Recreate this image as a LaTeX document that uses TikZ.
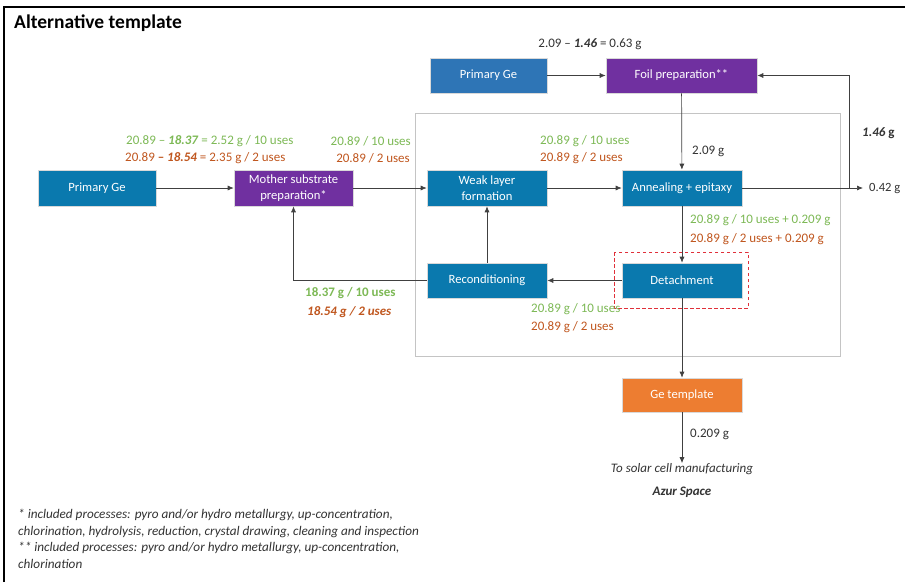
\documentclass[tikz,border=0pt]{standalone}
\usepackage{fontspec}
\setmainfont{Carlito}
\usetikzlibrary{arrows.meta}
\definecolor{boxblue}{HTML}{0A79AE}
\definecolor{topblue}{HTML}{2E75B6}
\definecolor{procpurple}{HTML}{7030A0}
\definecolor{tplorange}{HTML}{ED7D31}
\definecolor{usegreen}{HTML}{7DB955}
\definecolor{usebrown}{HTML}{C0561E}
\definecolor{flowgray}{HTML}{404040}
\definecolor{framegray}{HTML}{C4C4C4}
\definecolor{markred}{HTML}{E0303A}
\tikzset{
  proc/.style={draw=white!85!black, line width=0.6pt, text=white, minimum width=#1, align=center,
               font=\fontsize{12.6}{15.5}\selectfont, inner sep=0pt},
  proc/.default=120pt,
  lbl/.style={inner sep=0pt, font=\fontsize{13}{15}\selectfont},
  grn/.style={lbl, text=usegreen},
  brn/.style={lbl, text=usebrown},
  blk/.style={lbl, text=flowgray!80!black},
  flow/.style={draw=flowgray, line width=0.7pt, -{Latex[length=6pt,width=5pt]}},
}
\begin{document}
\begin{tikzpicture}[x=1pt,y=-1pt]
\useasboundingbox (0,0) rectangle (905,582);
\fill[white] (0,0) rectangle (905,582);
% outer frame (open at right and bottom)
\draw[black, line width=1.6pt] (4,582) -- (4,7) -- (905,7);
\node[anchor=west, inner sep=0pt, font=\fontsize{19.5}{22}\selectfont\bfseries] (title) at (14,23) {Alternative template};

% reuse cycle frame
\draw[framegray, line width=0.8pt] (415,113) rectangle (840,356);

% process boxes
\node[proc=117pt, fill=topblue, minimum height=35pt] (pgtop) at (488.5,75.5) {Primary Ge};
\node[proc=151pt, fill=procpurple, minimum height=35pt] (foil) at (681.5,75.5) {Foil preparation**};
\node[proc=118pt, fill=boxblue, minimum height=36pt] (pgleft) at (97,188) {Primary Ge};
\node[proc=119pt, fill=procpurple, minimum height=36pt] (mother) at (293.5,188) {Mother substrate\\preparation*};
\node[proc, fill=boxblue, minimum height=36pt] (weak) at (487,188) {Weak layer\\formation};
\node[proc, fill=boxblue, minimum height=36pt] (anneal) at (682,188) {Annealing + epitaxy};
\node[proc, fill=boxblue, minimum height=35pt] (recon) at (487,280.5) {Reconditioning};
\node[proc, fill=boxblue, minimum height=35pt] (detach) at (682,280.5) {Detachment};
\node[proc, fill=tplorange, minimum height=34pt] (getpl) at (682,395) {Ge template};
% marker round the detachment step
\draw[markred, line width=1pt, dash pattern=on 3.5pt off 2.5pt] (614,252) rectangle (748,308);

% free ends
\coordinate (loopdown) at (849,188);
\coordinate (loopup) at (849,75.5);
\coordinate (outend) at (863,188);
\coordinate (reconturn) at (293.5,280.5);
\node[blk, anchor=west, font=\fontsize{12.6}{15}\selectfont] (out042) at (869,188.5) {0.42 g};
\node[blk] (solar) at (682,469) {\itshape To solar cell manufacturing};
\node[blk] (azur) at (682,492) {\bfseries\itshape Azur Space};

% connectors
\draw[flow] (pgleft) -- (mother);
\draw[flow] (mother) -- (weak);
\draw[flow] (weak) -- (anneal);
\draw[flow] (anneal) -- (outend);
\draw[flow] (pgtop) -- (foil);
\draw[flow] (foil) -- (anneal);
\draw[flow] (loopdown) -- (loopup) -- (foil.east);
\draw[flow] (anneal) -- (detach);
\draw[flow] (detach) -- (recon);
\draw[flow] (recon) -- (weak);
\draw[flow] (recon.west) -- (reconturn) -- (mother.south);
\draw[flow] (detach) -- (getpl);
\draw[flow] (getpl) -- (solar);

% mass labels
\node[blk] (foilmass) at (590,44) {2.09 -- \textbf{\textit{1.46}} = 0.63 g};
\node[grn, anchor=west] (msgrn) at (126,141) {20.89 -- \textbf{\textit{18.37}} = 2.52 g / 10 uses};
\node[brn, anchor=west] (msbrn) at (125,158) {20.89 \textbf{--} \textbf{\textit{18.54}} = 2.35 g / 2 uses};
\node[grn, anchor=east] (mwgrn) at (411,141) {20.89 / 10 uses};
\node[brn, anchor=east] (mwbrn) at (410,158) {20.89 / 2 uses};
\node[grn, anchor=west] (wagrn) at (540,141) {20.89 g / 10 uses};
\node[brn, anchor=west] (wabrn) at (540,158) {20.89 g / 2 uses};
\node[blk, anchor=west] (fa) at (692,151) {2.09 g};
\node[blk, anchor=west] (loopmass) at (862,133) {\bfseries\itshape 1.46 \upshape g};
\node[grn, anchor=west] (adgrn) at (690,220) {20.89 g / 10 uses + 0.209 g};
\node[brn, anchor=west] (adbrn) at (690,239) {20.89 g / 2 uses + 0.209 g};
\node[grn, anchor=west] (rmgrn) at (305,293) {\bfseries 18.37 g / 10 uses};
\node[brn, anchor=west] (rmbrn) at (307,312) {\bfseries\itshape 18.54 g / 2 uses};
\node[grn, anchor=west] (drgrn) at (531,309) {20.89 g / 10 uses};
\node[brn, anchor=west] (drbrn) at (531,327) {20.89 g / 2 uses};
\node[blk, anchor=west] (tplmass) at (690,434) {0.209 g};

% footnotes
\node[blk, anchor=north west, align=left, font=\fontsize{13.2}{16.7}\selectfont\itshape] (notes) at (18,509)
  {* included processes: pyro and/or hydro metallurgy, up-concentration,\\
   chlorination, hydrolysis, reduction, crystal drawing, cleaning and inspection\\
   ** included processes: pyro and/or hydro metallurgy, up-concentration,\\
   chlorination};
\end{tikzpicture}
\end{document}
